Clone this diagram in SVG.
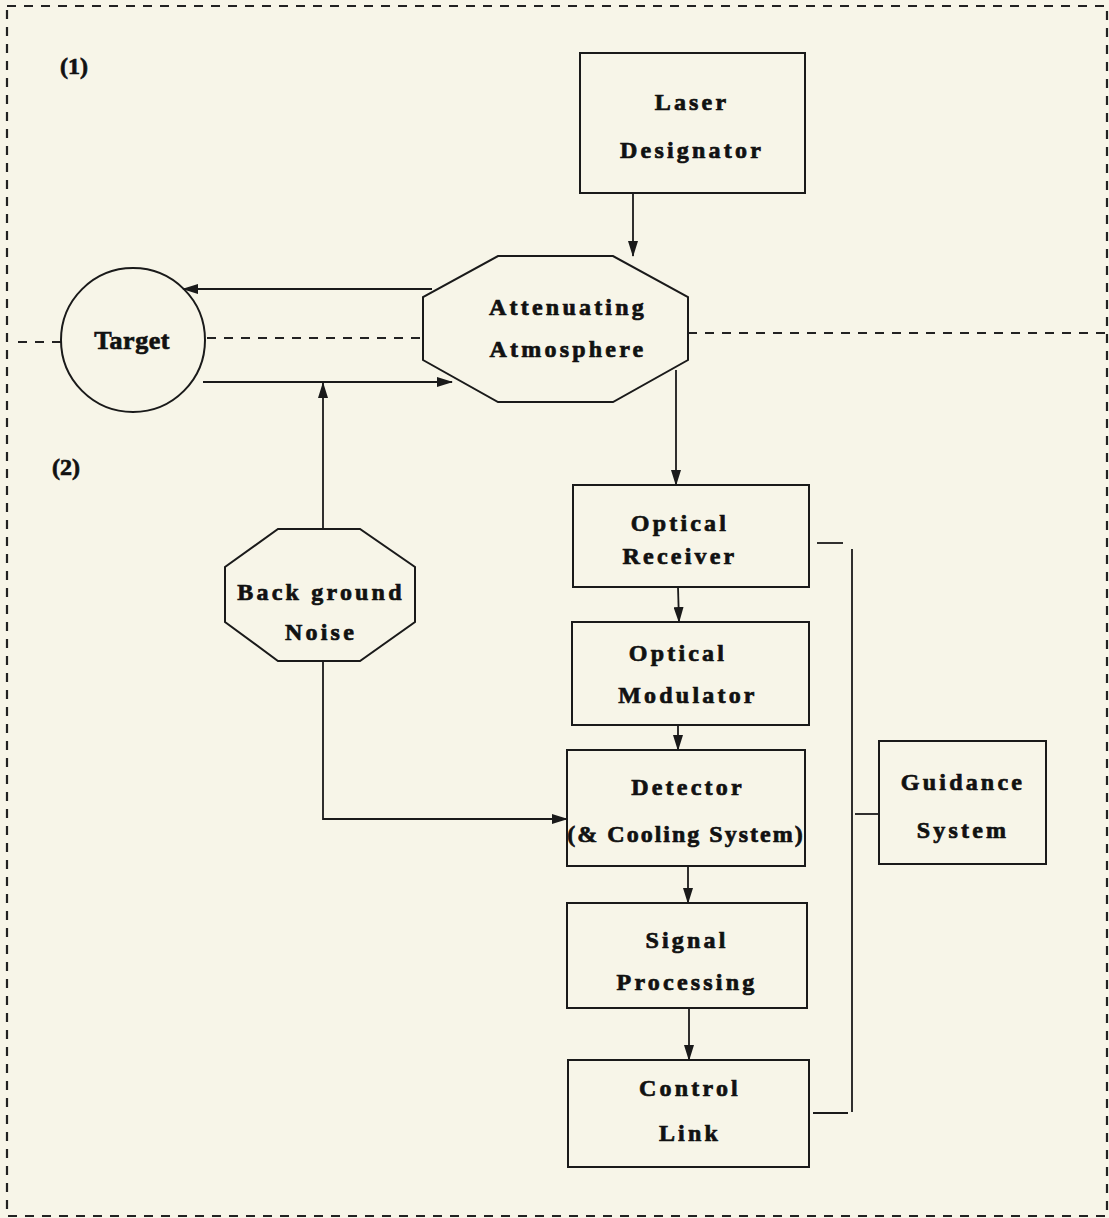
<svg xmlns="http://www.w3.org/2000/svg" width="1109" height="1218" viewBox="0 0 1109 1218">
<defs>
<style>
.bg{fill:#f7f5e8}
.shape{fill:none;stroke:#1a1a1a;stroke-width:2}
.line{fill:none;stroke:#1a1a1a;stroke-width:1.8}
.dash{fill:none;stroke:#222;stroke-width:2.2;stroke-dasharray:9 8}
.lbl{font-family:"Liberation Serif","DejaVu Serif",serif;font-weight:bold;font-size:24px;fill:#111;stroke:#111;stroke-width:0.7px;text-anchor:middle;letter-spacing:3.2px}
</style>
<marker id="ah" markerWidth="16" markerHeight="10" refX="15" refY="5" orient="auto" markerUnits="userSpaceOnUse">
<path d="M0,0 L16,5 L0,10 Z" fill="#1a1a1a"/>
</marker>
</defs>
<rect class="bg" x="0" y="0" width="1109" height="1218"/>

<g id="regions">
<rect class="dash" x="7" y="6" width="1100" height="1210"/>
<line class="dash" x1="18" y1="342" x2="61" y2="342"/>
<line class="dash" x1="207" y1="338" x2="423" y2="338"/>
<line class="dash" x1="688" y1="333" x2="1107" y2="333"/>
<text class="lbl" x="74" y="74" style="letter-spacing:0">(1)</text>
<text class="lbl" x="66" y="475" style="letter-spacing:0">(2)</text>
</g>

<g id="connectors">
<line class="line" x1="633" y1="193" x2="633" y2="256" marker-end="url(#ah)"/>
<line class="line" x1="432" y1="289" x2="183" y2="289" marker-end="url(#ah)"/>
<line class="line" x1="203" y1="382" x2="452" y2="382" marker-end="url(#ah)"/>
<line class="line" x1="323" y1="529" x2="323" y2="383" marker-end="url(#ah)"/>
<polyline class="line" points="323,661 323,819 567,819" marker-end="url(#ah)"/>
<line class="line" x1="676" y1="370" x2="676" y2="485" marker-end="url(#ah)"/>
<line class="line" x1="678" y1="587" x2="679" y2="622" marker-end="url(#ah)"/>
<line class="line" x1="678" y1="725" x2="678" y2="750" marker-end="url(#ah)"/>
<line class="line" x1="688" y1="866" x2="688" y2="903" marker-end="url(#ah)"/>
<line class="line" x1="689" y1="1008" x2="689" y2="1060" marker-end="url(#ah)"/>
<line class="line" x1="817" y1="543" x2="843" y2="543"/>
<line class="line" x1="852" y1="549" x2="852" y2="1112"/>
<line class="line" x1="813" y1="1113" x2="848" y2="1113"/>
<line class="line" x1="855" y1="814" x2="879" y2="814"/>
</g>

<g id="laser-designator">
<rect class="shape" x="580" y="53" width="225" height="140"/>
<text class="lbl" x="692" y="110">Laser</text>
<text class="lbl" x="692" y="158">Designator</text>
</g>

<g id="target">
<circle class="shape" cx="133" cy="340" r="72"/>
<text class="lbl" x="132" y="349" style="font-size:26px;letter-spacing:0.5px">Target</text>
</g>

<g id="attenuating-atmosphere">
<polygon class="shape" points="498,256 613,256 688,297 688,360 613,402 498,402 423,360 423,297"/>
<text class="lbl" x="568" y="315">Attenuating</text>
<text class="lbl" x="568" y="357">Atmosphere</text>
</g>

<g id="background-noise">
<polygon class="shape" points="278,529 360,529 415,567 415,622 360,661 278,661 225,622 225,567"/>
<text class="lbl" x="321" y="600">Back ground</text>
<text class="lbl" x="321" y="640">Noise</text>
</g>

<g id="optical-receiver">
<rect class="shape" x="573" y="485" width="236" height="102"/>
<text class="lbl" x="680" y="531">Optical</text>
<text class="lbl" x="680" y="564">Receiver</text>
</g>

<g id="optical-modulator">
<rect class="shape" x="572" y="622" width="237" height="103"/>
<text class="lbl" x="678" y="661">Optical</text>
<text class="lbl" x="688" y="703">Modulator</text>
</g>

<g id="detector">
<rect class="shape" x="567" y="750" width="238" height="116"/>
<text class="lbl" x="688" y="795">Detector</text>
<text class="lbl" x="686" y="842" style="letter-spacing:2px">(&amp; Cooling System)</text>
</g>

<g id="guidance-system">
<rect class="shape" x="879" y="741" width="167" height="123"/>
<text class="lbl" x="963" y="790">Guidance</text>
<text class="lbl" x="963" y="838">System</text>
</g>

<g id="signal-processing">
<rect class="shape" x="567" y="903" width="240" height="105"/>
<text class="lbl" x="687" y="948">Signal</text>
<text class="lbl" x="687" y="990">Processing</text>
</g>

<g id="control-link">
<rect class="shape" x="568" y="1060" width="241" height="107"/>
<text class="lbl" x="690" y="1096">Control</text>
<text class="lbl" x="690" y="1141">Link</text>
</g>
</svg>
